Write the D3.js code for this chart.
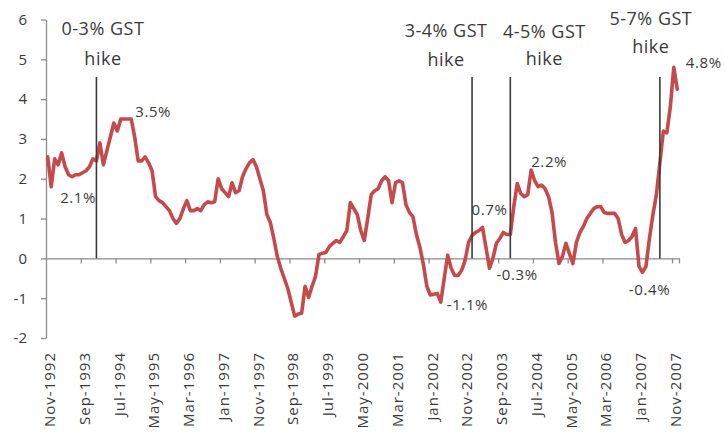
<!DOCTYPE html>
<html>
<head>
<meta charset="utf-8">
<script src="https://cdn.jsdelivr.net/npm/d3@7"></script>
<style>
  html, body { margin: 0; padding: 0; background: #fff; }
  svg { display: block; font-family: "Open Sans", "DejaVu Sans", sans-serif; }
</style>
</head>
<body>
<svg id="chart" width="725" height="439"></svg>
<script>
// ---------- DATA ----------
const startMonth = new Date(1992, 10, 1);   // Nov-1992
const endMonth = new Date(2008, 0, 1);      // exclusive -> last is Dec-2007

const values = [
  2.55, 1.8, 2.5, 2.35, 2.65, 2.3, 2.1, 2.05, 2.1, 2.1,
  2.15, 2.2, 2.3, 2.5, 2.45, 2.9, 2.35, 2.7, 3.05, 3.4,
  3.2, 3.5, 3.5, 3.5, 3.5, 3.05, 2.45, 2.45, 2.55, 2.4,
  2.2, 1.55, 1.45, 1.4, 1.3, 1.2, 1.0, 0.88, 1.0, 1.25,
  1.45, 1.2, 1.2, 1.25, 1.2, 1.35, 1.42, 1.4, 1.42, 2.0,
  1.75, 1.65, 1.55, 1.9, 1.65, 1.7, 2.05, 2.25, 2.4, 2.48,
  2.3, 2.0, 1.7, 1.1, 0.9, 0.5, 0.05, -0.25, -0.5, -0.75,
  -1.1, -1.45, -1.4, -1.38, -0.7, -0.98, -0.7, -0.45, 0.1, 0.13,
  0.15, 0.3, 0.38, 0.45, 0.4, 0.55, 0.7, 1.4, 1.25, 1.1,
  0.7, 0.45, 1.0, 1.6, 1.7, 1.75, 1.95, 2.05, 1.95, 1.4,
  1.9, 1.95, 1.9, 1.35, 1.15, 1.05, 0.6, 0.28, -0.15, -0.7,
  -0.92, -0.9, -0.88, -1.1, -0.5, 0.08, -0.25, -0.43, -0.43, -0.3,
  -0.05, 0.4, 0.58, 0.65, 0.7, 0.78, 0.28, -0.25, 0.0, 0.38,
  0.5, 0.65, 0.6, 0.6, 1.3, 1.88, 1.63, 1.55, 1.6, 2.22,
  1.95, 1.8, 1.84, 1.75, 1.55, 1.15, 0.4, -0.13, 0.05, 0.38,
  0.12, -0.13, 0.4, 0.65, 0.8, 1.0, 1.13, 1.25, 1.3, 1.3,
  1.15, 1.13, 1.13, 1.13, 1.0, 0.6, 0.4, 0.45, 0.55, 0.75,
  -0.2, -0.35, -0.2, 0.5, 1.1, 1.6, 2.4, 3.2, 3.15, 3.8,
  4.8, 4.25
];

const tickLabels = [
  "Nov-1992", "Sep-1993", "Jul-1994", "May-1995", "Mar-1996", "Jan-1997",
  "Nov-1997", "Sep-1998", "Jul-1999", "May-2000", "Mar-2001", "Jan-2002",
  "Nov-2002", "Sep-2003", "Jul-2004", "May-2005", "Mar-2006", "Jan-2007",
  "Nov-2007"
];
const yTicks = [-2, -1, 0, 1, 2, 3, 4, 5, 6];

const hikeMonths = ["Jan-1994", "Jan-2003", "Dec-2003", "Jul-2007"];
const hikeTexts = [
  ["0-3% GST", "hike"],
  ["3-4% GST", "hike"],
  ["4-5% GST", "hike"],
  ["5-7% GST", "hike"]
];

const labelMonths = ["Jun-1993", "Nov-1994", "Apr-2002", "Apr-2003", "Jun-2003", "Jun-2004", "Feb-2007", "Nov-2007"];
const labelTexts = ["2.1%", "3.5%", "-1.1%", "0.7%", "-0.3%", "2.2%", "-0.4%", "4.8%"];

// ---------- LAYOUT / STYLE ----------
const fmt = d3.timeFormat("%b-%Y");
const categories = d3.timeMonth.range(startMonth, endMonth).map(fmt);

const svg = d3.select("#chart");
const W = 725, H = 439;
svg.append("rect").attr("width", W).attr("height", H).attr("fill", "#fff");

const x = d3.scaleBand().domain(categories).range([46, 679]).paddingInner(0).paddingOuter(0);
const bw = x.bandwidth();
const cx = c => x(c) + bw / 2;
const xIdx = d3.scaleLinear().domain([0, categories.length]).range([46, 679]);
const y = d3.scaleLinear().domain([-2, 6]).range([338, 19.5]);

const axisColor = "#8a8a8a";
const textColor = "#3a3a3a";

// Y axis
const yAxis = svg.append("g")
  .attr("transform", "translate(46,0)")
  .call(d3.axisLeft(y).tickValues(yTicks).tickSize(5).tickSizeOuter(0).tickPadding(14).tickFormat(d3.format("d")));
yAxis.select(".domain").attr("stroke", axisColor).attr("stroke-width", 1.3);
yAxis.selectAll(".tick line").attr("stroke", axisColor).attr("stroke-width", 1.3);
yAxis.selectAll(".tick text")
  .attr("fill", textColor).attr("font-size", 15).attr("font-family", "'Open Sans', sans-serif")
  .text(d => d < 0 ? "-" + Math.abs(d) : d);

// X axis (at zero)
const xAxis = svg.append("g")
  .attr("transform", `translate(0,${y(0)})`)
  .call(d3.axisBottom(xIdx).tickValues(d3.range(10, categories.length + 1, 10).concat([categories.length]))
    .tickSize(5).tickSizeOuter(0).tickFormat(""));
xAxis.select(".domain").attr("stroke", axisColor).attr("stroke-width", 1.3);
xAxis.selectAll(".tick line").attr("stroke", axisColor).attr("stroke-width", 1.3);

// X tick labels (low position, rotated)
svg.append("g").selectAll("text")
  .data(tickLabels)
  .join("text")
  .attr("transform", d => `translate(${cx(d) + 2},352) rotate(-90)`)
  .attr("text-anchor", "end")
  .attr("dy", "0.35em")
  .attr("font-size", 15)
  .attr("letter-spacing", 1)
  .attr("fill", textColor)
  .text(d => d);

// Line
const line = d3.line()
  .x((d, i) => cx(categories[i]))
  .y(d => y(d))
  .curve(d3.curveLinear);
svg.append("path")
  .datum(values)
  .attr("d", line)
  .attr("fill", "none")
  .attr("stroke", "#c64a4b")
  .attr("stroke-width", 3.6)
  .attr("stroke-linejoin", "round")
  .attr("stroke-linecap", "round");

// Data labels
const labelStyle = [
  { dx: 6, dy: 26, anchor: "middle" },
  { dx: 4, dy: -2, anchor: "start" },
  { dx: 6, dy: 8, anchor: "start" },
  { dx: -11, dy: -12, anchor: "start" },
  { dx: 7, dy: 12, anchor: "start" },
  { dx: 0, dy: -3, anchor: "start" },
  { dx: 7, dy: 23, anchor: "middle" },
  { dx: 12, dy: 1, anchor: "start" }
];
svg.append("g").selectAll("text")
  .data(labelMonths)
  .join("text")
  .attr("x", (d, i) => cx(d) + labelStyle[i].dx)
  .attr("y", (d, i) => y(values[categories.indexOf(d)]) + labelStyle[i].dy)
  .attr("text-anchor", (d, i) => labelStyle[i].anchor)
  .attr("font-size", 15)
  .attr("letter-spacing", 0.6)
  .attr("fill", textColor)
  .text((d, i) => labelTexts[i]);

// Hike lines + texts
const hikeStyle = [
  { dx: 6.5, y1: 35, y2: 65 },
  { dx: -26, y1: 37, y2: 66 },
  { dx: 34, y1: 38, y2: 65 },
  { dx: -9, y1: 25, y2: 53 }
];
const hikes = svg.append("g");
hikes.selectAll("line")
  .data(hikeMonths)
  .join("line")
  .attr("x1", d => cx(d)).attr("x2", d => cx(d))
  .attr("y1", 77).attr("y2", y(0))
  .attr("stroke", "#3a3a3a").attr("stroke-width", 1.6);
hikes.selectAll("text.t1")
  .data(hikeMonths)
  .join("text").attr("class", "t1")
  .attr("x", (d, i) => cx(d) + hikeStyle[i].dx)
  .attr("y", (d, i) => hikeStyle[i].y1)
  .attr("text-anchor", "middle")
  .attr("font-size", 18).attr("letter-spacing", 0.5)
  .attr("fill", textColor)
  .text((d, i) => hikeTexts[i][0]);
hikes.selectAll("text.t2")
  .data(hikeMonths)
  .join("text").attr("class", "t2")
  .attr("x", (d, i) => cx(d) + hikeStyle[i].dx)
  .attr("y", (d, i) => hikeStyle[i].y2)
  .attr("text-anchor", "middle")
  .attr("font-size", 18).attr("letter-spacing", 0.5)
  .attr("fill", textColor)
  .text((d, i) => hikeTexts[i][1]);
</script>
</body>
</html>
